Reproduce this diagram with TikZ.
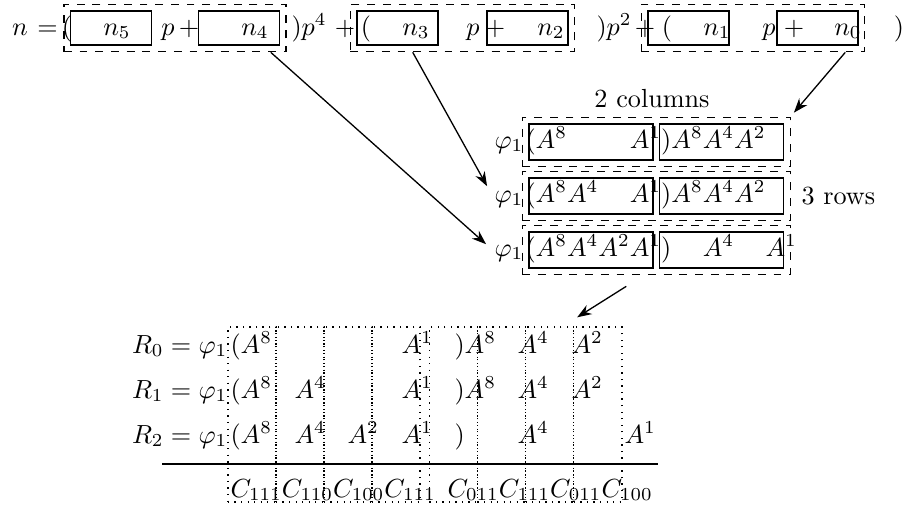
\documentclass[tikz,border=0pt]{standalone}
\usepackage{amsmath,amssymb}
\usetikzlibrary{arrows.meta,positioning,fit,calc}

\tikzset{
  numbox/.style={rectangle,draw,line width=0.5pt,minimum width=30.9pt,minimum height=13pt,inner sep=0pt},
  colbox/.style={rectangle,draw,line width=0.5pt,minimum width=47.4pt,minimum height=13.75pt,inner sep=0pt},
  grpbox/.style={rectangle,draw,dashed,line width=0.5pt,inner sep=2.3pt},
  slotbox/.style={rectangle,draw,dotted,line width=0.5pt,minimum width=18.4pt,minimum height=66.9pt,inner sep=0pt},
  tok/.style={inner sep=0pt,anchor=base},
  lft/.style={inner sep=0pt,anchor=base west},
  link/.style={line width=0.5pt,-{Stealth[length=5.5pt,width=4pt]}},
}

\begin{document}
\begin{tikzpicture}[x=0.382pt,y=-0.382pt]
\useasboundingbox (0,0) rectangle (904,513);

% digit boxes of n
\node[numbox] (n5box) at (111,28) {};
\node[numbox] (n4box) at (239,28) {};
\node[numbox] (n3box) at (397.5,28) {};
\node[numbox] (n2box) at (527.5,28) {};
\node[numbox] (n1box) at (688.5,28) {};
\node[numbox] (n0box) at (817.5,28) {};
\node[grpbox,fit=(n5box)(n4box)] (grp1) {};
\node[grpbox,fit=(n3box)(n2box)] (grp2) {};
\node[grpbox,fit=(n1box)(n0box)] (grp3) {};

% the expansion of n
\node[tok] (tn) at (20,35) {$n$};
\node[tok] (teq) at (47.5,35) {$=$};
\node[tok] at (67,35) {$($};
\node[tok] at (117,35) {$n_5$};
\node[tok] at (168,35) {$p$};
\node[tok] at (189,35) {$+$};
\node[tok] at (255,35) {$n_4$};
\node[lft] at (291,35) {$)p^4$};
\node[tok] at (345,35) {$+$};
\node[tok] at (366,35) {$($};
\node[tok] at (416,35) {$n_3$};
\node[tok] at (473,35) {$p$};
\node[tok] at (495,35) {$+$};
\node[tok] at (551,35) {$n_2$};
\node[lft] at (596,35) {$)p^2$};
\node[tok] at (645,35) {$+$};
\node[tok] at (667,35) {$($};
\node[tok] at (717,35) {$n_1$};
\node[tok] at (769,35) {$p$};
\node[tok] at (794,35) {$+$};
\node[tok] at (848,35) {$n_0$};
\node[tok] at (899,35) {$)$};

% rows and columns
\node[colbox] (colA1) at (591,142) {};
\node[colbox] (colA2) at (721.5,142) {};
\node[colbox] (colB1) at (591,196) {};
\node[colbox] (colB2) at (721.5,196) {};
\node[colbox] (colC1) at (591,250) {};
\node[colbox] (colC2) at (721.5,250) {};
\node[grpbox,fit=(colA1)(colA2)] (rowA) {};
\node[grpbox,fit=(colB1)(colB2)] (rowB) {};
\node[grpbox,fit=(colC1)(colC2)] (rowC) {};

\node[tok] (cols) at (652,107) {2 columns};
\node[lft] (rows) at (801,204) {3 rows};

\node[tok,anchor=base east] (phiA) at (524,148) {$\varphi_1$};
\node[tok,anchor=base east] (phiB) at (524,202) {$\varphi_1$};
\node[tok,anchor=base east] (phiC) at (524,256) {$\varphi_1$};
\node[lft] at (525,148) {$(A^8\phantom{A^4A^2}A^1)A^8A^4A^2$};
\node[lft] at (525,202) {$(A^8A^4\phantom{A^2}A^1)A^8A^4A^2$};
\node[lft] at (525,256) {$(A^8A^4A^2A^1)\phantom{A^8}A^4\phantom{A^2}A^1$};

% table of registers
\foreach \i in {0,...,3} {
  \node[slotbox] (L\i) at (252+48*\i,414.5) {};
  \node[slotbox] (R\i) at (453.3+48.2*\i,414.5) {};
}

\node[tok,anchor=base east] (reg0) at (228,353) {$R_0=\varphi_1$};
\node[tok,anchor=base east] (reg1) at (228,398) {$R_1=\varphi_1$};
\node[tok,anchor=base east] (reg2) at (228,443) {$R_2=\varphi_1$};

\node[lft] at (230,353) {$(A^8$};
\node[lft] at (401,353) {$A^1$};
\node[lft] at (454,353) {$)A^8$};
\node[lft] at (517,353) {$A^4$};
\node[lft] at (571,353) {$A^2$};

\node[lft] at (230,398) {$(A^8$};
\node[lft] at (294,398) {$A^4$};
\node[lft] at (401,398) {$A^1$};
\node[lft] at (454,398) {$)A^8$};
\node[lft] at (517,398) {$A^4$};
\node[lft] at (571,398) {$A^2$};

\node[lft] at (230,443) {$(A^8$};
\node[lft] at (294,443) {$A^4$};
\node[lft] at (347,443) {$A^2$};
\node[lft] at (401,443) {$A^1$};
\node[lft] at (454,443) {$)$};
\node[lft] at (517,443) {$A^4$};
\node[lft] at (624,443) {$A^1$};

\draw[line width=0.5pt] (162,464) -- (658,464);
\node[lft] (cl) at (230,497) {$C_{111}C_{110}C_{100}C_{111}$};
\node[lft] (cr) at (447,497) {$C_{011}C_{111}C_{011}C_{100}$};

% arrows
\draw[link] ($(grp1.south east)+(-16,0)$) -- ($(phiC.north west)+(-8,0)$);
\draw[link] ($(grp2.south west)+(63,0)$) -- ($(phiB.north west)+(-7,-4)$);
\draw[link] ($(grp3.south east)+(-20,0)$) -- ($(rowA.north east)+(3,-4)$);
\draw[link] ($(rowC.south)+(-30,11)$) -- ($(R3.north west)+(4,-9)$);

\end{tikzpicture}
\end{document}
